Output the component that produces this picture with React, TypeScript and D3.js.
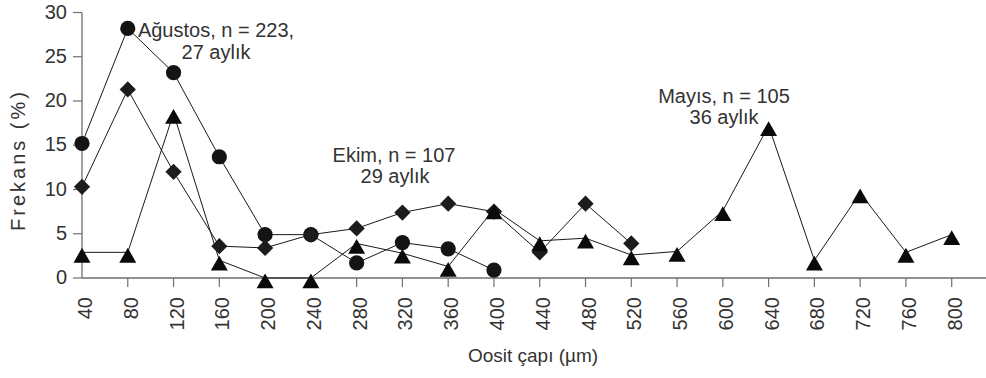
import React from 'react'
import * as d3 from 'd3'

// oocyte diameter classes (µm)
const sizes = [40, 80, 120, 160, 200, 240, 280, 320, 360, 400, 440, 480, 520, 560, 600, 640, 680, 720, 760, 800]

// frequency (%) per month sample
const agustos = [15.2, 28.2, 23.2, 13.7, 4.9, 4.9, 1.7, 4.0, 3.3, 0.9]
const ekim = [10.3, 21.3, 12.0, 3.6, 3.4, 4.9, 5.6, 7.4, 8.4, 7.5, 2.9, 8.4, 3.9]
const mayis = [2.9, 2.9, 18.6, 2.0, 0, 0, 3.9, 2.8, 1.3, 7.8, 4.2, 4.5, 2.6, 3.0, 7.6, 17.2, 2.0, 9.6, 2.9, 4.9]

const yTicks = [0, 5, 10, 15, 20, 25, 30]

const W = 986
const H = 378
const FONT = '"Liberation Sans", Arial, sans-serif'
const TEXT = '#333'
const AXIS = '#6e6e6e'

const x = d3.scaleLinear().domain([40, 800]).range([82, 951.7])
const y = d3.scaleLinear().domain([0, 30]).range([278, 12.5])

const toPoints = (vals: number[]) => vals.map((v, i) => [sizes[i], v] as [number, number])

const line = d3.line<[number, number]>().x(d => x(d[0])).y(d => y(d[1]))

const circlePath = d3.symbol(d3.symbolCircle, Math.PI * 7.6 * 7.6)() as string
const diamondPath = d3.symbol(d3.symbolSquare, 132)() as string

// triangle marker sits a little low on its point, like the original
const triPath = (() => {
  const p = d3.path()
  p.moveTo(0, -4.5)
  p.lineTo(8.5, 10.3)
  p.lineTo(-8.5, 10.3)
  p.closePath()
  return p.toString()
})()

const series = [
  { name: 'agustos', values: agustos, marker: 'circle' },
  { name: 'ekim', values: ekim, marker: 'diamond' },
  { name: 'mayis', values: mayis, marker: 'triangle' },
]

const Marker = ({ kind, cx, cy }: { kind: string; cx: number; cy: number }) => {
  if (kind === 'circle') return <path d={circlePath} transform={`translate(${cx},${cy})`} fill="#141414" />
  if (kind === 'diamond') return <path d={diamondPath} transform={`translate(${cx},${cy}) rotate(45)`} fill="#1c1c1c" />
  return <path d={triPath} transform={`translate(${cx},${cy})`} fill="#0a0a0a" />
}

export default function App() {
  return (
    <svg width={W} height={H} style={{ position: 'absolute', left: 0, top: 0, background: '#fff' }} fontFamily={FONT}>
      {/* axes */}
      <line x1={x(40)} x2={W} y1={y(0)} y2={y(0)} stroke={AXIS} strokeWidth={1.3} />
      <line x1={x(40)} x2={x(40)} y1={y(0)} y2={y(30)} stroke={AXIS} strokeWidth={1.3} />
      {yTicks.map(t => (
        <g key={'y' + t}>
          <line x1={x(40) - 9} x2={x(40)} y1={y(t)} y2={y(t)} stroke={AXIS} strokeWidth={1.2} />
          <text x={67} y={y(t) - 1} textAnchor="end" dominantBaseline="central" fontSize={20} fill={TEXT}>{t}</text>
        </g>
      ))}
      {sizes.map(s => (
        <g key={'x' + s}>
          {s !== 40 && <line x1={x(s)} x2={x(s)} y1={y(0)} y2={y(0) + 9} stroke={AXIS} strokeWidth={1.2} />}
          <text transform={`translate(${x(s) + 3},297) rotate(-90)`} textAnchor="end" dominantBaseline="central" fontSize={20} fill={TEXT}>{s}</text>
        </g>
      ))}
      <text x={533} y={362} textAnchor="middle" fontSize={19} fill={TEXT}>Oosit çapı (µm)</text>
      <text transform="translate(25,160) rotate(-90)" textAnchor="middle" fontSize={20} letterSpacing={3} fill={TEXT}>Frekans (%)</text>

      {/* lines */}
      {series.map(s => (
        <path key={'l' + s.name} d={line(toPoints(s.values)) as string} fill="none" stroke="#1a1a1a" strokeWidth={1} />
      ))}
      {/* markers */}
      {series.map(s => (
        <g key={'m' + s.name}>
          {toPoints(s.values).map(d => (
            <Marker key={d[0]} kind={s.marker} cx={x(d[0])} cy={y(d[1])} />
          ))}
        </g>
      ))}

      {/* annotations */}
      <g fontSize={20} fill={TEXT} textAnchor="middle">
        <text x={216} y={37}>Ağustos, n = 223,</text>
        <text x={216} y={59}>27 aylık</text>
        <text x={394} y={162}>Ekim, n = 107</text>
        <text x={395} y={183}>29 aylık</text>
        <text x={724} y={103}>Mayıs, n = 105</text>
        <text x={724} y={124}>36 aylık</text>
      </g>
    </svg>
  )
}
